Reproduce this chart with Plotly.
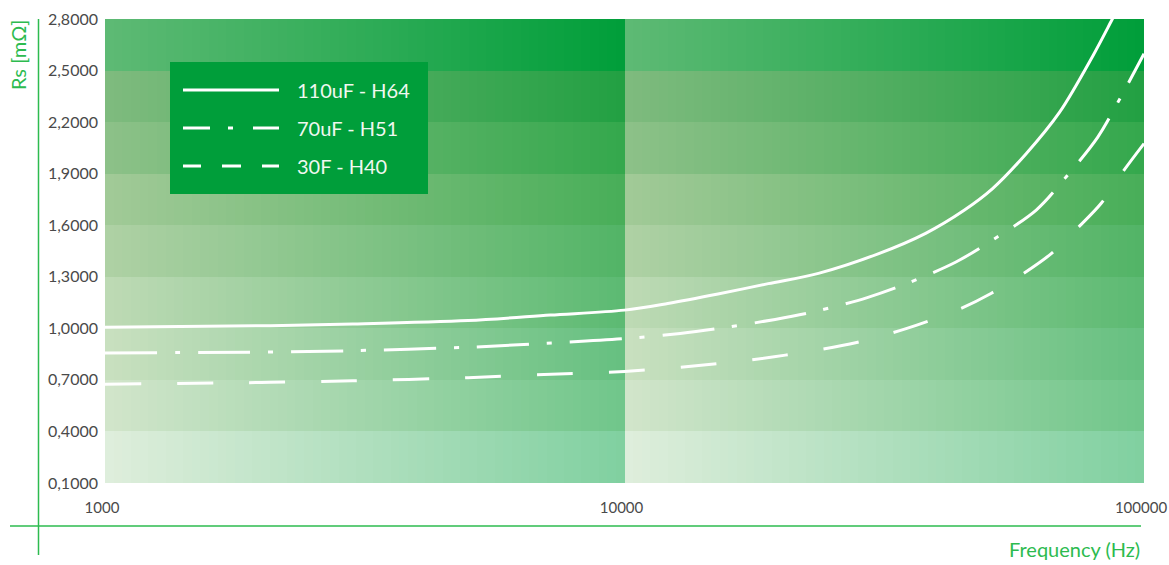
import numpy as np
import plotly.graph_objects as go

# ---- data ----
freq_110 = [1000, 2000, 3000, 5000, 7200, 10000, 12110, 15130, 18910, 23620, 30860, 37990, 45060, 51110, 59310, 68800, 79800, 86610, 89860]
rs_110 = [1.007, 1.015, 1.025, 1.045, 1.077, 1.106, 1.145, 1.200, 1.260, 1.320, 1.435, 1.553, 1.687, 1.813, 2.016, 2.258, 2.588, 2.791, 2.884]

freq_70 = [1000, 2000, 3000, 5000, 7000, 10000, 12800, 15470, 19500, 23410, 29330, 34960, 43450, 51050, 62100, 70350, 81480, 89860, 100000]
rs_70 = [0.857, 0.862, 0.870, 0.890, 0.912, 0.940, 0.970, 1.003, 1.052, 1.100, 1.179, 1.261, 1.386, 1.513, 1.690, 1.871, 2.113, 2.336, 2.598]

freq_30 = [1000, 2000, 3000, 5000, 7000, 10000, 14860, 20400, 27980, 34960, 44060, 50750, 58340, 66300, 74530, 82800, 91000, 100000]
rs_30 = [0.675, 0.685, 0.695, 0.713, 0.732, 0.749, 0.792, 0.844, 0.918, 1.000, 1.111, 1.203, 1.315, 1.435, 1.584, 1.729, 1.910, 2.075]

series_names = ["110uF - H64", "70uF - H51", "30F - H40"]
x_tickvals = [1000, 10000, 100000]
x_ticktext = ["1000", "10000", "100000"]
y_ticks = [0.1, 0.4, 0.7, 1.0, 1.3, 1.6, 1.9, 2.2, 2.5, 2.8]

# ---- background gradient styling (bands bottom -> top, left/right colour per decade) ----
band_left = ["#dfeedc", "#d2e5cb", "#c9e0c0", "#bedab5", "#afd1a5", "#a2ca98", "#8dc189", "#7fbb7f", "#5eba74"]
band_right = ["#80d0a0", "#70c68a", "#66c080", "#5cba72", "#52b466", "#48ae58", "#34a84c", "#22a042", "#009e3a"]

def hex2rgb(h):
    h = h.lstrip("#")
    return np.array([int(h[i:i + 2], 16) for i in (0, 2, 4)], dtype=float)

N = 60  # columns per decade
decades = [3, 4]
x_edges = []
for d in decades:
    for k in range(N):
        x_edges.append(10 ** (d + k / N))
x_edges.append(10 ** 5)
y_edges = y_ticks

ncols = N * len(decades)
nrows = len(band_left)
z = np.zeros((nrows, ncols))
colors = []
idx = 0
for r in range(nrows):
    L = hex2rgb(band_left[r]); R = hex2rgb(band_right[r])
    for c in range(ncols):
        t = ((c % N) + 0.5) / N
        col = L * (1 - t) + R * t
        colors.append("rgb(%d,%d,%d)" % tuple(np.round(col)))
        z[r, c] = idx
        idx += 1
total = idx
cscale = []
for i, col in enumerate(colors):
    a = i / total
    b = (i + 1) / total
    cscale.append([a, col])
    cscale.append([b, col])
cscale[-1][0] = 1.0

fig = go.Figure()
fig.add_trace(go.Heatmap(x=x_edges, y=y_edges, z=z, colorscale=cscale, zmin=-0.5, zmax=total - 0.5,
                         showscale=False, hoverinfo="skip", zsmooth=False))

fig.add_trace(go.Scatter(x=freq_110, y=rs_110, mode="lines", name=series_names[0],
                         line=dict(color="white", width=3, shape="spline", smoothing=0.9)))
fig.add_trace(go.Scatter(x=freq_70, y=rs_70, mode="lines", name=series_names[1],
                         line=dict(color="white", width=3, shape="spline", smoothing=0.9,
                                   dash="52px,18px,5px,18px")))
fig.add_trace(go.Scatter(x=freq_30, y=rs_30, mode="lines", name=series_names[2],
                         line=dict(color="white", width=3, shape="spline", smoothing=0.9,
                                   dash="36px,36px")))

W, H = 1169, 565
ML, MR, MT, MB = 105, 25, 19, 82
PW = W - ML - MR
PH = H - MT - MB

def px(x):
    return (x - ML) / PW

def py(y):
    return (H - MB - y) / PH

GREEN = "#2dbb4f"
shapes = []
# axis lines outside plot
shapes.append(dict(type="line", xref="paper", yref="paper", x0=px(38.5), x1=px(38.5), y0=py(19), y1=py(555),
                   line=dict(color=GREEN, width=1.5)))
shapes.append(dict(type="line", xref="paper", yref="paper", x0=px(10), x1=px(1141), y0=py(526), y1=py(526),
                   line=dict(color=GREEN, width=1.5)))
# legend box
shapes.append(dict(type="rect", xref="paper", yref="paper", x0=px(170), x1=px(428), y0=py(62), y1=py(194),
                   fillcolor="#009e3a", line=dict(width=0)))
leg_y = [90, 128, 166]
leg_segments = [
    [(183, 279)],
    [(183, 210), (228, 233), (253, 279)],
    [(183, 201), (222, 241), (262, 279)],
]
annotations = []
for i, segs in enumerate(leg_segments):
    for (a, b) in segs:
        shapes.append(dict(type="line", xref="paper", yref="paper", x0=px(a), x1=px(b),
                           y0=py(leg_y[i]), y1=py(leg_y[i]), line=dict(color="white", width=3)))
    annotations.append(dict(text=series_names[i], xref="paper", yref="paper", x=px(295), y=py(leg_y[i]),
                            xanchor="left", yanchor="middle", showarrow=False,
                            font=dict(family="Lato", size=20, color="#f0f8f0")))

annotations.append(dict(text="Rs [mΩ]", xref="paper", yref="paper", x=px(18), y=py(18), textangle=-90,
                        xanchor="center", yanchor="top", showarrow=False,
                        font=dict(family="Lato", size=20, color=GREEN)))
annotations.append(dict(text="Frequency (Hz)", xref="paper", yref="paper", x=px(1142), y=py(549),
                        xanchor="right", yanchor="middle", showarrow=False,
                        font=dict(family="Lato", size=20, color=GREEN)))

fig.update_layout(
    width=W, height=H,
    margin=dict(l=ML, r=MR, t=MT, b=MB, autoexpand=False),
    paper_bgcolor="white", plot_bgcolor="white",
    showlegend=False,
    separators=",.",
    shapes=shapes,
    annotations=annotations,
    xaxis=dict(type="log", range=[3, 5], tickvals=x_tickvals, ticktext=x_ticktext, showgrid=False,
               zeroline=False, showline=False, ticks="", ticklabelstandoff=14, ticklabelshift=-3,
               ticklabeloverflow="allow", automargin=False,
               tickfont=dict(family="Lato", size=15, color="#4a4a4a")),
    yaxis=dict(range=[0.1, 2.8], tickvals=y_ticks, tickformat=".4f", showgrid=False, zeroline=False,
               showline=False, ticks="", ticklabelstandoff=6, ticklabeloverflow="allow", automargin=False,
               tickfont=dict(family="Lato", size=16, color="#4a4a4a")),
)

fig.write_html("out.html", config={"displayModeBar": False},
               post_script="document.body.style.margin='0';document.body.style.overflow='hidden';")
